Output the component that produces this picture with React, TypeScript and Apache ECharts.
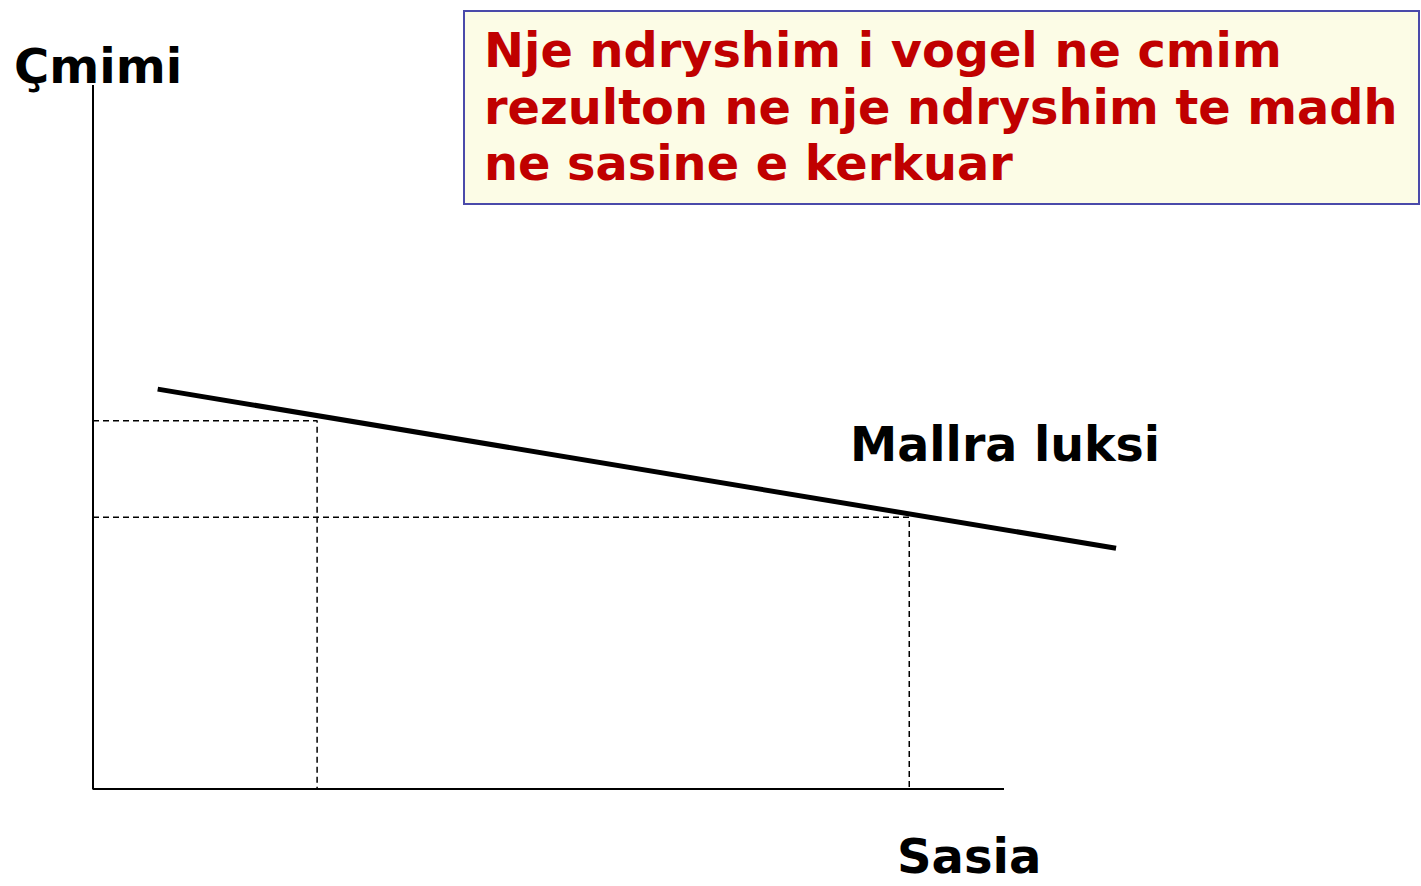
import React, { useEffect, useRef } from "react";
import * as echarts from "echarts";

// Demand curve for luxury goods (abstract units)
const demandQ = [0.71, 11.23];
const demandP = [5.68, 3.42];
// Reference points
const priceLevels = [5.23, 3.86];
const quantityLevels = [2.46, 8.96];

// Drawn axis extents
const axisMaxX = 10;
const axisMaxY = 10;
// Plot extent (wider than the drawn axis so the curve can run past it)
const plotMaxX = 12;

const yLabel = "Çmimi";
const xLabel = "Sasia";
const curveLabel = "Mallra luksi";
const noteLines = [
  "Nje ndryshim i vogel ne cmim",
  "rezulton ne nje ndryshim te madh",
  "ne sasine e kerkuar",
];

const FONT = "'DejaVu Sans', Verdana, sans-serif";

export default function App() {
  const ref = useRef<HTMLDivElement>(null);
  useEffect(() => {
    if (!ref.current) return;
    const chart = echarts.init(ref.current, null, { renderer: "svg" });
    const dashStyle = { color: "#000", width: 1.5, type: [6, 4] as any };
    const dashSeries: any[] = [];
    priceLevels.forEach((p, i) => {
      const q = quantityLevels[i];
      dashSeries.push({
        type: "line",
        data: [
          [0, p],
          [q, p],
          [q, 0],
        ],
        symbol: "none",
        lineStyle: dashStyle,
        silent: true,
        z: 1,
      });
    });
    const pxPerUnitX = (1004 - 93) / axisMaxX;
    const gridRight = 1421 - (93 + pxPerUnitX * plotMaxX);
    chart.setOption({
      animation: false,
      backgroundColor: "#fff",
      grid: { left: 93, right: gridRight, top: 85, bottom: 886 - 789, containLabel: false },
      xAxis: {
        type: "value",
        min: 0,
        max: plotMaxX,
        axisLine: { show: false },
        axisTick: { show: false },
        axisLabel: { show: false },
        splitLine: { show: false },
      },
      yAxis: {
        type: "value",
        min: 0,
        max: axisMaxY,
        axisLine: { show: false },
        axisTick: { show: false },
        axisLabel: { show: false },
        splitLine: { show: false },
      },
      series: [
        ...dashSeries,
        {
          type: "line",
          data: [
            [0, axisMaxY],
            [0, 0],
            [axisMaxX, 0],
          ],
          symbol: "none",
          lineStyle: { color: "#000", width: 2 },
          silent: true,
          z: 2,
        },
        {
          type: "line",
          data: demandQ.map((q, i) => [q, demandP[i]]),
          symbol: "none",
          lineStyle: { color: "#000", width: 5 },
          silent: true,
          z: 3,
        },
      ],
      graphic: [
        {
          type: "text",
          left: 14,
          top: 42,
          style: { text: yLabel, font: `bold 48px ${FONT}`, lineHeight: 48, fill: "#000" },
        },
        {
          type: "text",
          left: 897,
          top: 832,
          style: { text: xLabel, font: `bold 48px ${FONT}`, lineHeight: 48, fill: "#000" },
        },
        {
          type: "text",
          left: 850,
          top: 420,
          style: { text: curveLabel, font: `bold 47.5px ${FONT}`, lineHeight: 48, fill: "#000" },
        },
        {
          type: "rect",
          shape: { x: 464, y: 11, width: 955, height: 193 },
          style: { fill: "#FCFCE6", stroke: "#4A4AAA", lineWidth: 2 },
        },
        {
          type: "text",
          left: 484,
          top: 22,
          style: {
            text: noteLines.join("\n"),
            font: `bold 47.8px ${FONT}`,
            lineHeight: 56.7,
            fill: "#C00000",
          },
        },
      ],
    });
    return () => chart.dispose();
  }, []);
  return (
    <div
      ref={ref}
      style={{ position: "absolute", left: 0, top: 0, width: 1421, height: 886 }}
    />
  );
}
